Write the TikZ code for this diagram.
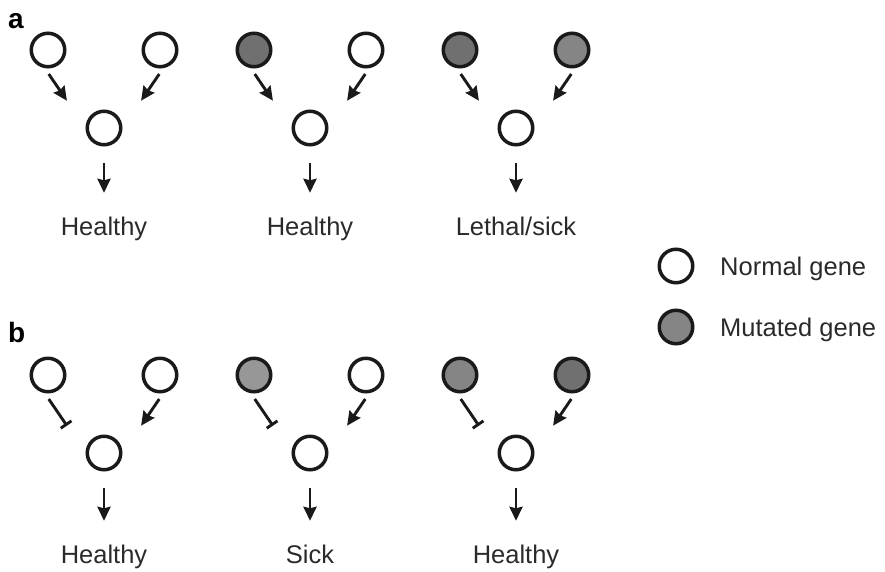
\documentclass[tikz,border=0pt]{standalone}
\usepackage{fontspec}
\setmainfont{Liberation Sans}
\usetikzlibrary{arrows.meta,calc}
\definecolor{linegray}{HTML}{1A1A1A}
\definecolor{textgray}{HTML}{2A2A2A}
\definecolor{mutdark}{HTML}{707070}
\definecolor{mutmid}{HTML}{858585}
\definecolor{mutlight}{HTML}{979797}

\begin{document}
\begin{tikzpicture}[x=1pt, y=-1pt,
    gene/.style={circle, draw=linegray, line width=3.5pt, fill=white, minimum size=33.5pt, inner sep=0pt},
    act/.style={-{Stealth[length=14pt, width=13pt, inset=1.5pt]}, line width=2.9pt, linegray},
    inh/.style={-{Bar[width=13pt]}, line width=2.9pt, linegray},
    side/.style={shorten <=7pt, shorten >=33pt},
    down/.style={shorten <=16.5pt, shorten >=24pt},
    outcome/.style={anchor=base, text=textgray, font=\fontsize{25.5}{30}\selectfont, text height=18pt, text depth=5pt, inner sep=0pt},
    legendtext/.style={anchor=base west, text=textgray, font=\fontsize{25.5}{30}\selectfont, inner sep=0pt},
    panel/.style={anchor=base west, font=\fontsize{28}{32}\selectfont\bfseries, inner sep=0pt},
]
    \useasboundingbox (0,0) rectangle (885,571);

    % --- Panel a: activating inputs ---
    \node[panel] (pa) at (8,28) {a};

    \begin{scope}[shift={(104,50)}]
        \node[gene] (a1l) at (-56,0) {};
        \node[gene] (a1r) at (56,0) {};
        \node[gene] (a1m) at (0,78) {};
        \node[outcome] (a1t) at (0,185) {Healthy};
        \draw[act, side] (a1l.-100) -- (a1m.west);
        \draw[act, side] (a1r.-80) -- (a1m.east);
        \draw[act, down] (a1m) -- (a1t.north);
    \end{scope}

    \begin{scope}[shift={(310,50)}]
        \node[gene, fill=mutdark] (a2l) at (-56,0) {};
        \node[gene] (a2r) at (56,0) {};
        \node[gene] (a2m) at (0,78) {};
        \node[outcome] (a2t) at (0,185) {Healthy};
        \draw[act, side] (a2l.-100) -- (a2m.west);
        \draw[act, side] (a2r.-80) -- (a2m.east);
        \draw[act, down] (a2m) -- (a2t.north);
    \end{scope}

    \begin{scope}[shift={(516,50)}]
        \node[gene, fill=mutdark] (a3l) at (-56,0) {};
        \node[gene, fill=mutmid] (a3r) at (56,0) {};
        \node[gene] (a3m) at (0,78) {};
        \node[outcome] (a3t) at (0,185) {Lethal/sick};
        \draw[act, side] (a3l.-100) -- (a3m.west);
        \draw[act, side] (a3r.-80) -- (a3m.east);
        \draw[act, down] (a3m) -- (a3t.north);
    \end{scope}

    % --- Panel b: one inhibiting input ---
    \node[panel] (pb) at (8,342) {b};

    \begin{scope}[shift={(104,375)}]
        \node[gene] (b1l) at (-56,0) {};
        \node[gene] (b1r) at (56,0) {};
        \node[gene] (b1m) at (0,78) {};
        \node[outcome] (b1t) at (0,188) {Healthy};
        \draw[inh, side] (b1l.-100) -- (b1m.west);
        \draw[act, side] (b1r.-80) -- (b1m.east);
        \draw[act, down] (b1m) -- (b1t.north);
    \end{scope}

    \begin{scope}[shift={(310,375)}]
        \node[gene, fill=mutlight] (b2l) at (-56,0) {};
        \node[gene] (b2r) at (56,0) {};
        \node[gene] (b2m) at (0,78) {};
        \node[outcome] (b2t) at (0,188) {Sick};
        \draw[inh, side] (b2l.-100) -- (b2m.west);
        \draw[act, side] (b2r.-80) -- (b2m.east);
        \draw[act, down] (b2m) -- (b2t.north);
    \end{scope}

    \begin{scope}[shift={(516,375)}]
        \node[gene, fill=mutmid] (b3l) at (-56,0) {};
        \node[gene, fill=mutdark] (b3r) at (56,0) {};
        \node[gene] (b3m) at (0,78) {};
        \node[outcome] (b3t) at (0,188) {Healthy};
        \draw[inh, side] (b3l.-100) -- (b3m.west);
        \draw[act, side] (b3r.-80) -- (b3m.east);
        \draw[act, down] (b3m) -- (b3t.north);
    \end{scope}

    % Legend
    \node[gene] (lnorm) at (676,266) {};
    \node[legendtext] (lnormt) at (720,275) {Normal gene};
    \node[gene, fill=mutmid] (lmut) at (676,327) {};
    \node[legendtext] (lmutt) at (720,336) {Mutated gene};

\end{tikzpicture}
\end{document}
